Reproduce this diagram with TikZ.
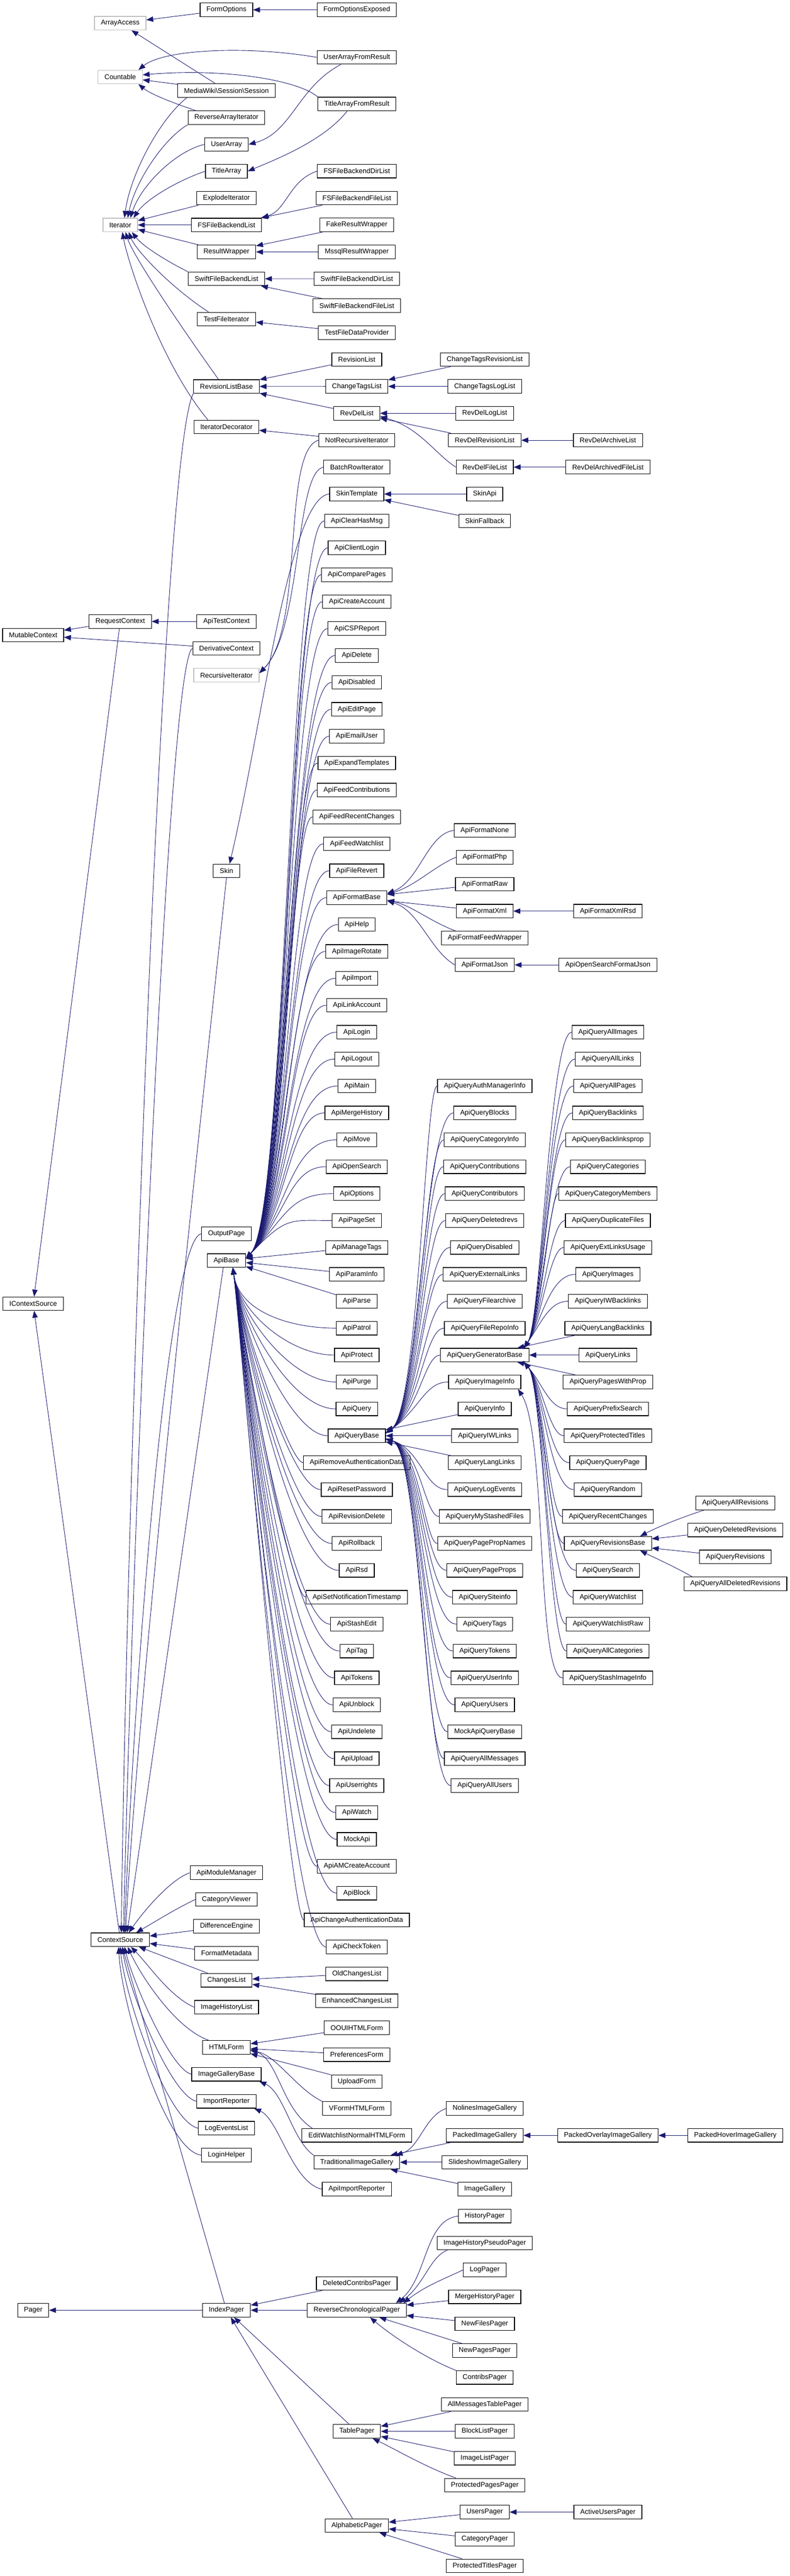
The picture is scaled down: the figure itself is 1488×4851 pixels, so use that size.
\documentclass[tikz,border=0pt]{standalone}
\usepackage{fontspec}
\setmainfont{Liberation Sans}
\usetikzlibrary{arrows.meta}
\definecolor{edgeblue}{HTML}{191970}

\begin{document}
\begin{tikzpicture}[x=1pt,y=-1pt]
 \tikzset{cls/.style={
 		draw=black,
 		line width=1.2pt,
 		fill=white,
 		font=\fontsize{13}{15}\selectfont,
 		minimum height=25.6pt,
 		inner xsep=12pt,
 		inner ysep=0pt
 	},
 	extcls/.style={cls, draw=black!25},
 	inh/.style={draw=edgeblue, line width=0.9pt, -{Triangle[length=13pt,width=10pt]}}
 }
 \useasboundingbox (0,0) rectangle (1488,4851);
 % roots and interfaces
 \node[cls] (MutableContext) at (62.5,1196) {MutableContext};
 \node[cls] (IContextSource) at (62.5,2455) {IContextSource};
 \node[cls] (Pager) at (62.5,4350.4) {Pager};
 \node[extcls] (ArrayAccess) at (226.5,43.8) {ArrayAccess};
 \node[extcls] (Countable) at (226.5,145) {Countable};
 \node[extcls] (Iterator) at (226.5,423.7) {Iterator};
 \node[cls] (RequestContext) at (226.5,1170.3) {RequestContext};
 \node[cls] (ContextSource) at (226.5,3652.8) {ContextSource};
 % second column
 \node[cls] (FormOptions) at (426.5,18.5) {FormOptions};
 \node[cls] (Session) at (426.5,170.5) {MediaWiki\textbackslash Session\textbackslash Session};
 \foreach \n/\y in {ReverseArrayIterator/221.5, UserArray/272, TitleArray/322.5,
   ExplodeIterator/373, FSFileBackendList/423.7, ResultWrapper/474.5,
   SwiftFileBackendList/525, TestFileIterator/601, RevisionListBase/727.8,
   IteratorDecorator/804, ApiTestContext/1170.3, DerivativeContext/1221,
   Skin/1640, OutputPage/2323.5, ApiBase/2373.7, ApiModuleManager/3526.6,
   CategoryViewer/3577, DifferenceEngine/3627.5, FormatMetadata/3678.3,
   ChangesList/3729.2, ImageHistoryList/3779.7, HTMLForm/3855.5,
   ImageGalleryBase/3906.2, ImportReporter/3957.2, LogEventsList/4007.7,
   LoginHelper/4058.4, IndexPager/4350.4}
   \node[cls] (\n) at (426.5,\y) {\n};
 \node[extcls] (RecursiveIterator) at (426.5,1271.6) {RecursiveIterator};
 % third column
 \node[cls] (FormOptionsExposed) at (672,18.5) {FormOptionsExposed};
 \node[cls] (UserArrayFromResult) at (672,108) {UserArrayFromResult};
 \node[cls] (TitleArrayFromResult) at (672,195.7) {TitleArrayFromResult};
 \foreach \n [count=\i from -13] in {FSFileBackendDirList, FSFileBackendFileList,
   FakeResultWrapper, MssqlResultWrapper, SwiftFileBackendDirList,
   SwiftFileBackendFileList, TestFileDataProvider, RevisionList, ChangeTagsList,
   RevDelList, NotRecursiveIterator, BatchRowIterator, SkinTemplate,
   ApiClearHasMsg, ApiClientLogin, ApiComparePages, ApiCreateAccount, ApiCSPReport,
   ApiDelete, ApiDisabled, ApiEditPage, ApiEmailUser, ApiExpandTemplates,
   ApiFeedContributions, ApiFeedRecentChanges, ApiFeedWatchlist, ApiFileRevert,
   ApiFormatBase, ApiHelp, ApiImageRotate, ApiImport, ApiLinkAccount, ApiLogin,
   ApiLogout, ApiMain, ApiMergeHistory, ApiMove, ApiOpenSearch, ApiOptions,
   ApiPageSet, ApiManageTags, ApiParamInfo, ApiParse, ApiPatrol, ApiProtect,
   ApiPurge, ApiQuery, ApiQueryBase, ApiRemoveAuthenticationData, ApiResetPassword,
   ApiRevisionDelete, ApiRollback, ApiRsd, ApiSetNotificationTimestamp, ApiStashEdit,
   ApiTag, ApiTokens, ApiUnblock, ApiUndelete, ApiUpload, ApiUserrights, ApiWatch,
   MockApi, ApiAMCreateAccount, ApiBlock, ApiChangeAuthenticationData, ApiCheckToken,
   OldChangesList, EnhancedChangesList, OOUIHTMLForm, PreferencesForm, UploadForm,
   VFormHTMLForm, EditWatchlistNormalHTMLForm, TraditionalImageGallery,
   ApiImportReporter}
   \node[cls] (\n) at (672,{981+50.67*\i}) {\n};
 \foreach \n/\i in {DeletedContribsPager/65.5, ReverseChronologicalPager/66.5,
   TablePager/71, AlphabeticPager/74.5}
   \node[cls] (\n) at (672,{981+50.67*\i}) {\n};
 % fourth column
 \foreach \n [count=\i from -6] in {ChangeTagsRevisionList, ChangeTagsLogList,
   RevDelLogList, RevDelRevisionList, RevDelFileList, SkinApi, SkinFallback}
   \node[cls] (\n) at (913,{981+50.67*\i}) {\n};
 \foreach \n [count=\i from 0] in {ApiFormatNone, ApiFormatPhp, ApiFormatRaw,
   ApiFormatXml, ApiFormatFeedWrapper, ApiFormatJson}
   \node[cls] (\n) at (913,{981+50.67*(\i+11.5)}) {\n};
 \foreach \n [count=\i from 21] in {ApiQueryAuthManagerInfo, ApiQueryBlocks,
   ApiQueryCategoryInfo, ApiQueryContributions, ApiQueryContributors,
   ApiQueryDeletedrevs, ApiQueryDisabled, ApiQueryExternalLinks, ApiQueryFilearchive,
   ApiQueryFileRepoInfo, ApiQueryGeneratorBase, ApiQueryImageInfo, ApiQueryInfo,
   ApiQueryIWLinks, ApiQueryLangLinks, ApiQueryLogEvents, ApiQueryMyStashedFiles,
   ApiQueryPagePropNames, ApiQueryPageProps, ApiQuerySiteinfo, ApiQueryTags,
   ApiQueryTokens, ApiQueryUserInfo, ApiQueryUsers, MockApiQueryBase,
   ApiQueryAllMessages, ApiQueryAllUsers}
   \node[cls] (\n) at (913,{981+50.67*\i}) {\n};
 \foreach \n [count=\i from 59] in {NolinesImageGallery, PackedImageGallery,
   SlideshowImageGallery, ImageGallery, HistoryPager, ImageHistoryPseudoPager,
   LogPager, MergeHistoryPager, NewFilesPager, NewPagesPager, ContribsPager,
   AllMessagesTablePager, BlockListPager, ImageListPager, ProtectedPagesPager,
   UsersPager, CategoryPager, ProtectedTitlesPager}
   \node[cls] (\n) at (913,{981+50.67*\i}) {\n};
 % fifth column
 \foreach \n [count=\i from 19] in {ApiQueryAllImages, ApiQueryAllLinks,
   ApiQueryAllPages, ApiQueryBacklinks, ApiQueryBacklinksprop, ApiQueryCategories,
   ApiQueryCategoryMembers, ApiQueryDuplicateFiles, ApiQueryExtLinksUsage,
   ApiQueryImages, ApiQueryIWBacklinks, ApiQueryLangBacklinks, ApiQueryLinks,
   ApiQueryPagesWithProp, ApiQueryPrefixSearch, ApiQueryProtectedTitles,
   ApiQueryQueryPage, ApiQueryRandom, ApiQueryRecentChanges, ApiQueryRevisionsBase,
   ApiQuerySearch, ApiQueryWatchlist, ApiQueryWatchlistRaw, ApiQueryAllCategories,
   ApiQueryStashImageInfo}
   \node[cls] (\n) at (1145,{981+50.67*\i}) {\n};
 \foreach \n/\i in {RevDelArchiveList/-3, RevDelArchivedFileList/-2,
   ApiFormatXmlRsd/14.5, ApiOpenSearchFormatJson/16.5,
   PackedOverlayImageGallery/60, ActiveUsersPager/74}
   \node[cls] (\n) at (1145,{981+50.67*\i}) {\n};
 % sixth column
 \foreach \n [count=\i from 0] in {ApiQueryAllRevisions, ApiQueryDeletedRevisions,
   ApiQueryRevisions, ApiQueryAllDeletedRevisions}
   \node[cls] (\n) at (1385,{981+50.67*(\i+36.5)}) {\n};
 \node[cls] (PackedHoverImageGallery) at (1385,{981+50.67*60}) {PackedHoverImageGallery};

 % ---- edges: top block
 \draw[inh] (FormOptions) -- (ArrayAccess);
 \draw[inh] (FormOptionsExposed) -- (FormOptions);
 \draw[inh] (Session) -- (ArrayAccess);
 \draw[inh] (Session) -- (Countable);
 \draw[inh] (UserArrayFromResult.west) .. controls (470,86) and (310,92) .. ([xshift=-8pt]Countable.north east);
 \draw[inh] (TitleArrayFromResult.north west) .. controls (560,150) and (420,128) .. ([yshift=4pt]Countable.east);
 \draw[inh] ([xshift=15pt]ReverseArrayIterator.north west) .. controls (320,192) and (282,176) .. ([xshift=-8pt]Countable.south east);
 \draw[inh] ([xshift=-30pt]UserArrayFromResult.south) .. controls (560,165) and (550,250) .. (UserArray.east);
 \draw[inh] ([xshift=-18pt]TitleArrayFromResult.south) .. controls (610,265) and (520,300) .. (TitleArray.east);
 \draw[inh] ([xshift=18pt]Session.south west) .. controls (300,225) and (245,330) .. ([xshift=8pt]Iterator.north);
 \draw[inh] (ReverseArrayIterator.south west) .. controls (310,260) and (255,340) .. ([xshift=14pt]Iterator.north);
 \draw[inh] (UserArray.west) .. controls (330,285) and (265,350) .. ([xshift=19pt]Iterator.north);
 \draw[inh] (TitleArray.west) .. controls (335,340) and (275,375) .. ([xshift=25pt]Iterator.north);
 \draw[inh] (ExplodeIterator) -- (Iterator);
 \draw[inh] (FSFileBackendList) -- (Iterator);
 \draw[inh] (ResultWrapper) -- (Iterator);
 \draw[inh] (SwiftFileBackendList.north west) .. controls (320,495) and (270,465) .. ([xshift=22pt]Iterator.south);
 \draw[inh] ([xshift=22pt]TestFileIterator.north west) .. controls (320,540) and (255,470) .. ([xshift=16pt]Iterator.south);
 \draw[inh] ([xshift=-15pt]RevisionListBase.north) .. controls (330,600) and (250,480) .. ([xshift=10pt]Iterator.south);
 \draw[inh] ([xshift=-35pt]IteratorDecorator.north) .. controls (300,680) and (240,490) .. ([xshift=4pt]Iterator.south);
 \draw[inh] (FSFileBackendDirList.west) .. controls (545,340) and (540,395) .. (FSFileBackendList.north east);
 \draw[inh] (FSFileBackendFileList) -- (FSFileBackendList);
 \draw[inh] (FakeResultWrapper) -- (ResultWrapper);
 \draw[inh] (MssqlResultWrapper) -- (ResultWrapper);
 \draw[inh] (SwiftFileBackendDirList) -- (SwiftFileBackendList);
 \draw[inh] (SwiftFileBackendFileList) -- (SwiftFileBackendList);
 \draw[inh] (TestFileDataProvider) -- (TestFileIterator);
 \draw[inh] (RevisionList) -- (RevisionListBase);
 \draw[inh] (ChangeTagsList) -- (RevisionListBase);
 \draw[inh] (RevDelList) -- (RevisionListBase);
 \draw[inh] (ChangeTagsRevisionList) -- (ChangeTagsList);
 \draw[inh] (ChangeTagsLogList) -- (ChangeTagsList);
 \draw[inh] (RevDelLogList) -- (RevDelList);
 \draw[inh] (RevDelRevisionList) -- (RevDelList);
 \draw[inh] (RevDelFileList.west) .. controls (820,855) and (790,805) .. ([yshift=-6pt]RevDelList.east);
 \draw[inh] (RevDelArchiveList) -- (RevDelRevisionList);
 \draw[inh] (RevDelArchivedFileList) -- (RevDelFileList);
 \draw[inh] (NotRecursiveIterator) -- (IteratorDecorator);
 \draw[inh] (NotRecursiveIterator.west) .. controls (530,850) and (575,1180) .. ([yshift=4pt]RecursiveIterator.east);
 \draw[inh] (BatchRowIterator.west) .. controls (555,890) and (570,1185) .. ([yshift=4pt]RecursiveIterator.east);
 \draw[inh] (SkinApi) -- (SkinTemplate);
 \draw[inh] (SkinFallback) -- (SkinTemplate);
 \draw[inh] (SkinTemplate.west) .. controls (545,935) and (495,1360) .. ([xshift=6pt]Skin.north);

 % ---- contexts
 \draw[inh] (RequestContext) -- (MutableContext);
 \draw[inh] (DerivativeContext) -- (MutableContext);
 \draw[inh] (ApiTestContext) -- (RequestContext);
 \draw[inh] (RequestContext) -- (IContextSource);
 \draw[inh] (ContextSource) -- (IContextSource);
 \draw[inh] (RevisionListBase.south west) .. controls (300,860) and (235,3000) .. ([xshift=2pt]ContextSource.north);
 \draw[inh] (DerivativeContext.west) .. controls (315,1240) and (250,2900) .. ([xshift=6pt]ContextSource.north);
 \draw[inh] (Skin.south) .. controls (390,2000) and (262,3150) .. ([xshift=10pt]ContextSource.north);
 \draw[inh] (OutputPage.west) .. controls (320,2330) and (255,3100) .. ([xshift=8pt]ContextSource.north);
 \draw[inh] ([xshift=-6pt]ApiBase.south) -- ([xshift=13pt]ContextSource.north);
 \draw[inh] (ApiModuleManager.west) .. controls (320,3540) and (270,3600) .. ([xshift=16pt]ContextSource.north);
 \draw[inh] (CategoryViewer.west) .. controls (330,3595) and (290,3620) .. ([xshift=30pt]ContextSource.north);
 \draw[inh] (DifferenceEngine) -- (ContextSource);
 \draw[inh] (FormatMetadata) -- (ContextSource);
 \draw[inh] (ChangesList) -- (ContextSource);
 \draw[inh] (ImageHistoryList.west) .. controls (320,3760) and (280,3700) .. ([xshift=20pt]ContextSource.south);
 \draw[inh] ([xshift=12pt]HTMLForm.north west) .. controls (330,3820) and (265,3720) .. ([xshift=14pt]ContextSource.south);
 \draw[inh] (ImageGalleryBase.west) .. controls (320,3895) and (250,3730) .. ([xshift=8pt]ContextSource.south);
 \draw[inh] (ImportReporter.west) .. controls (320,3945) and (240,3740) .. ([xshift=4pt]ContextSource.south);
 \draw[inh] (LogEventsList.west) .. controls (315,3995) and (235,3760) .. (ContextSource.south);
 \draw[inh] (LoginHelper.west) .. controls (310,4050) and (228,3770) .. ([xshift=-3pt]ContextSource.south);
 \draw[inh] (IndexPager) -- (ContextSource);

 % ---- ApiBase family
 \coordinate (abcol) at (545,0);
 \coordinate (abup) at (540,2290);
 \coordinate (abdn) at (450,2470);
 \foreach \n in {ApiClearHasMsg, ApiClientLogin, ApiComparePages, ApiCreateAccount,
   ApiCSPReport, ApiDelete, ApiDisabled, ApiEditPage, ApiEmailUser,
   ApiExpandTemplates, ApiFeedContributions, ApiFeedRecentChanges, ApiFeedWatchlist,
   ApiFileRevert, ApiFormatBase, ApiHelp, ApiImageRotate, ApiImport, ApiLinkAccount,
   ApiLogin, ApiLogout, ApiMain, ApiMergeHistory, ApiMove, ApiOpenSearch, ApiOptions,
   ApiPageSet}
   \draw[inh] (\n.west) .. controls (\n.west -| abcol) and (abup) .. ([yshift=4pt]ApiBase.east);
 \draw[inh] (ApiManageTags) -- (ApiBase);
 \draw[inh] (ApiParamInfo) -- (ApiBase);
 \draw[inh] (ApiParse) -- (ApiBase);
 \foreach \n in {ApiPatrol, ApiProtect, ApiPurge, ApiQuery, ApiQueryBase,
   ApiRemoveAuthenticationData, ApiResetPassword, ApiRevisionDelete, ApiRollback,
   ApiRsd, ApiSetNotificationTimestamp, ApiStashEdit, ApiTag, ApiTokens, ApiUnblock,
   ApiUndelete, ApiUpload, ApiUserrights, ApiWatch, MockApi, ApiAMCreateAccount,
   ApiBlock, ApiChangeAuthenticationData, ApiCheckToken}
   \draw[inh] (\n.west) .. controls (\n.west -| abcol) and (abdn) .. ([xshift=12pt]ApiBase.south);

 % ---- ApiFormatBase family
 \draw[inh] (ApiFormatNone.west) .. controls (805,1570) and (790,1660) .. ([yshift=8pt]ApiFormatBase.east);
 \draw[inh] (ApiFormatPhp.west) .. controls (820,1630) and (780,1670) .. ([yshift=7pt]ApiFormatBase.east);
 \draw[inh] (ApiFormatRaw) -- (ApiFormatBase);
 \draw[inh] (ApiFormatXml) -- (ApiFormatBase);
 \draw[inh] ([xshift=27pt]ApiFormatFeedWrapper.north west) .. controls (810,1735) and (775,1705) .. ([yshift=-5pt]ApiFormatBase.east);
 \draw[inh] (ApiFormatJson.west) .. controls (810,1790) and (790,1715) .. ([yshift=-6pt]ApiFormatBase.east);
 \draw[inh] (ApiFormatXmlRsd) -- (ApiFormatXml);
 \draw[inh] (ApiOpenSearchFormatJson) -- (ApiFormatJson);

 % ---- ApiQueryBase family
 \coordinate (qbcol) at (800,0);
 \coordinate (qbup) at (790,2655);
 \coordinate (qbdn) at (792,2728);
 \foreach \n in {ApiQueryAuthManagerInfo, ApiQueryBlocks, ApiQueryCategoryInfo,
   ApiQueryContributions, ApiQueryContributors, ApiQueryDeletedrevs, ApiQueryDisabled,
   ApiQueryExternalLinks, ApiQueryFilearchive, ApiQueryFileRepoInfo,
   ApiQueryGeneratorBase, ApiQueryImageInfo}
   \draw[inh] (\n.west) .. controls (\n.west -| qbcol) and (qbup) .. ([yshift=5pt]ApiQueryBase.east);
 \draw[inh] (ApiQueryInfo) -- (ApiQueryBase);
 \draw[inh] (ApiQueryIWLinks) -- (ApiQueryBase);
 \draw[inh] (ApiQueryLangLinks) -- (ApiQueryBase);
 \foreach \n in {ApiQueryLogEvents, ApiQueryMyStashedFiles, ApiQueryPagePropNames,
   ApiQueryPageProps, ApiQuerySiteinfo, ApiQueryTags, ApiQueryTokens, ApiQueryUserInfo,
   ApiQueryUsers, MockApiQueryBase, ApiQueryAllMessages, ApiQueryAllUsers}
   \draw[inh] (\n.west) .. controls (\n.west -| qbcol) and (qbdn) .. ([yshift=-6pt]ApiQueryBase.east);
 \draw[inh] (ApiQueryStashImageInfo.west) .. controls (1010,3159) and (1030,2700) .. ([xshift=-6pt]ApiQueryImageInfo.south east);

 % ---- ApiQueryGeneratorBase family
 \coordinate (gbcol) at (1035,0);
 \coordinate (gbup) at (1020,2490);
 \coordinate (gbdn) at (1022,2606);
 \foreach \n in {ApiQueryAllImages, ApiQueryAllLinks, ApiQueryAllPages,
   ApiQueryBacklinks, ApiQueryBacklinksprop, ApiQueryCategories,
   ApiQueryCategoryMembers, ApiQueryDuplicateFiles, ApiQueryExtLinksUsage,
   ApiQueryImages, ApiQueryIWBacklinks}
   \draw[inh] (\n.west) .. controls (\n.west -| gbcol) and (gbup) .. ([xshift=-10pt]ApiQueryGeneratorBase.north east);
 \draw[inh] (ApiQueryLangBacklinks) -- (ApiQueryGeneratorBase);
 \draw[inh] (ApiQueryLinks) -- (ApiQueryGeneratorBase);
 \draw[inh] (ApiQueryPagesWithProp) -- (ApiQueryGeneratorBase);
 \foreach \n in {ApiQueryPrefixSearch, ApiQueryProtectedTitles, ApiQueryQueryPage,
   ApiQueryRandom, ApiQueryRecentChanges, ApiQueryRevisionsBase, ApiQuerySearch,
   ApiQueryWatchlist, ApiQueryWatchlistRaw, ApiQueryAllCategories}
   \draw[inh] (\n.west) .. controls (\n.west -| gbcol) and (gbdn) .. ([xshift=-10pt]ApiQueryGeneratorBase.south east);
 \draw[inh] ([xshift=16pt]ApiQueryAllRevisions.south west) .. controls (1270,2862) and (1230,2880) .. ([xshift=-22pt]ApiQueryRevisionsBase.north east);
 \draw[inh] (ApiQueryDeletedRevisions) -- (ApiQueryRevisionsBase);
 \draw[inh] (ApiQueryRevisions) -- (ApiQueryRevisionsBase);
 \draw[inh] ([xshift=16pt]ApiQueryAllDeletedRevisions.north west) .. controls (1270,2950) and (1230,2932) .. ([xshift=-22pt]ApiQueryRevisionsBase.south east);

 % ---- lists, forms, galleries
 \draw[inh] (OldChangesList) -- (ChangesList);
 \draw[inh] (EnhancedChangesList) -- (ChangesList);
 \draw[inh] (OOUIHTMLForm) -- (HTMLForm);
 \draw[inh] (PreferencesForm) -- (HTMLForm);
 \draw[inh] (UploadForm) -- (HTMLForm);
 \draw[inh] (VFormHTMLForm.north west) .. controls (560,3935) and (520,3870) .. ([yshift=-6pt]HTMLForm.east);
 \draw[inh] ([xshift=20pt]EditWatchlistNormalHTMLForm.north west) .. controls (530,3970) and (525,3880) .. ([yshift=-4pt]HTMLForm.east);
 \draw[inh] (TraditionalImageGallery.north west) .. controls (550,4030) and (535,3940) .. ([xshift=-4pt]ImageGalleryBase.south east);
 \draw[inh] (ApiImportReporter.west) .. controls (550,4110) and (525,3990) .. ([xshift=-4pt]ImportReporter.south east);
 \draw[inh] (NolinesImageGallery.west) .. controls (800,3985) and (790,4045) .. ([xshift=-8pt]TraditionalImageGallery.north east);
 \draw[inh] (PackedImageGallery) -- (TraditionalImageGallery);
 \draw[inh] (SlideshowImageGallery) -- (TraditionalImageGallery);
 \draw[inh] (ImageGallery) -- (TraditionalImageGallery);
 \draw[inh] (PackedOverlayImageGallery) -- (PackedImageGallery);
 \draw[inh] (PackedHoverImageGallery) -- (PackedOverlayImageGallery);

 % ---- pagers
 \draw[inh] (IndexPager) -- (Pager);
 \draw[inh] (DeletedContribsPager) -- (IndexPager);
 \draw[inh] (ReverseChronologicalPager) -- (IndexPager);
 \draw[inh] (TablePager) -- (IndexPager);
 \draw[inh] (AlphabeticPager) -- (IndexPager);
 \draw[inh] (HistoryPager.west) .. controls (800,4180) and (805,4290) .. ([xshift=-20pt]ReverseChronologicalPager.north east);
 \draw[inh] ([xshift=20pt]ImageHistoryPseudoPager.south west) .. controls (810,4250) and (800,4300) .. ([xshift=-14pt]ReverseChronologicalPager.north east);
 \draw[inh] (LogPager.west) .. controls (840,4290) and (800,4305) .. ([xshift=-6pt]ReverseChronologicalPager.north east);
 \draw[inh] (MergeHistoryPager) -- (ReverseChronologicalPager);
 \draw[inh] (NewFilesPager) -- (ReverseChronologicalPager);
 \draw[inh] (NewPagesPager) -- (ReverseChronologicalPager);
 \draw[inh] (ContribsPager.north west) .. controls (800,4440) and (740,4400) .. ([xshift=25pt]ReverseChronologicalPager.south);
 \draw[inh] (AllMessagesTablePager) -- (TablePager);
 \draw[inh] (BlockListPager) -- (TablePager);
 \draw[inh] (ImageListPager) -- (TablePager);
 \draw[inh] ([xshift=22pt]ProtectedPagesPager.north west) .. controls (800,4645) and (750,4615) .. ([xshift=30pt]TablePager.south);
 \draw[inh] (UsersPager) -- (AlphabeticPager);
 \draw[inh] (CategoryPager) -- (AlphabeticPager);
 \draw[inh] (ProtectedTitlesPager) -- (AlphabeticPager);
 \draw[inh] (ActiveUsersPager) -- (UsersPager);
\end{tikzpicture}
\end{document}
